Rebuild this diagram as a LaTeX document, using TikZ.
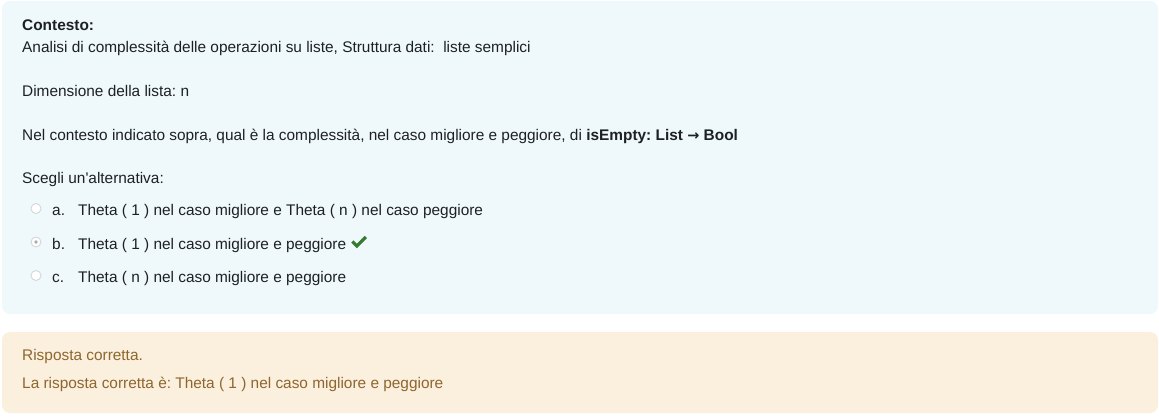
\documentclass[tikz,border=0pt]{standalone}
\usepackage{fontspec}
\newfontfamily\uifont{Liberation Sans}
\newfontfamily\symfont{DejaVu Sans}
\definecolor{formbg}{HTML}{EFF8FB}
\definecolor{outbg}{HTML}{FBEFDD}
\definecolor{textdark}{HTML}{1D2125}
\definecolor{outtext}{HTML}{8E662E}
\definecolor{radiogray}{HTML}{D3D7DB}
\definecolor{dotgray}{HTML}{A8ACB0}
\definecolor{checkgreen}{HTML}{357A32}
\frenchspacing
\begin{document}
\begin{tikzpicture}[x=1pt,y=-1pt,
  txt/.style={anchor=base west, inner sep=0pt, font=\uifont\fontsize{15.4}{18}\selectfont\frenchspacing, text=textdark},
  outtxt/.style={txt, text=outtext},
  radio/.style={circle, draw=radiogray, line width=0.9pt, fill=white, minimum size=10pt, inner sep=0pt},
  panel/.style={rounded corners=8pt}]
\useasboundingbox (0,0) rectangle (1159,416);
\fill[panel, formbg] (2,1) rectangle (1158,314);
\fill[panel, outbg] (2,332) rectangle (1158,413);

\node[txt] (ctx) at (22,30.5) {\bfseries Contesto:};
\node[txt] (ana) at (22,52) {Analisi di complessità delle operazioni su liste, Struttura dati:~ liste semplici};
\node[txt] (dim) at (22,96) {Dimensione della lista: n};
\node[txt] (nel) at (22,140) {Nel contesto indicato sopra, qual è la complessità, nel caso migliore e peggiore, di \textbf{isEmpty: List {\symfont\bfseries\fontsize{14.5}{14}\selectfont →} Bool}};
\node[txt] (sce) at (22,183.5) {Scegli un'alternativa:};

\node[radio] (ra) at (36,208.5) {};
\node[txt] (la) at (52,215) {a.};
\node[txt] (ta) at (78,215) {Theta ( 1 ) nel caso migliore e Theta ( n ) nel caso peggiore};

\node[radio] (rb) at (36,242) {};
\fill[dotgray] (rb.center) circle (1.8pt);
\node[txt] (lb) at (52,249) {b.};
\node[txt] (tb) at (78,249) {Theta ( 1 ) nel caso migliore e peggiore};
\coordinate (chk) at ([xshift=5pt]tb.east |- rb.center);
\draw[checkgreen, line width=3.2pt, line join=miter, line cap=butt]
  ([xshift=1pt,yshift=0.5pt]chk) -- ([xshift=5.5pt,yshift=-4pt]chk) -- ([xshift=14.5pt,yshift=5pt]chk);

\node[radio] (rc) at (36,275.5) {};
\node[txt] (lc) at (52,282) {c.};
\node[txt] (tc) at (78,282) {Theta ( n ) nel caso migliore e peggiore};

\node[outtxt] (ok) at (22,360) {Risposta corretta.};
\node[outtxt] (ans) at (22,388) {La risposta corretta è: Theta ( 1 ) nel caso migliore e peggiore};
\end{tikzpicture}
\end{document}
